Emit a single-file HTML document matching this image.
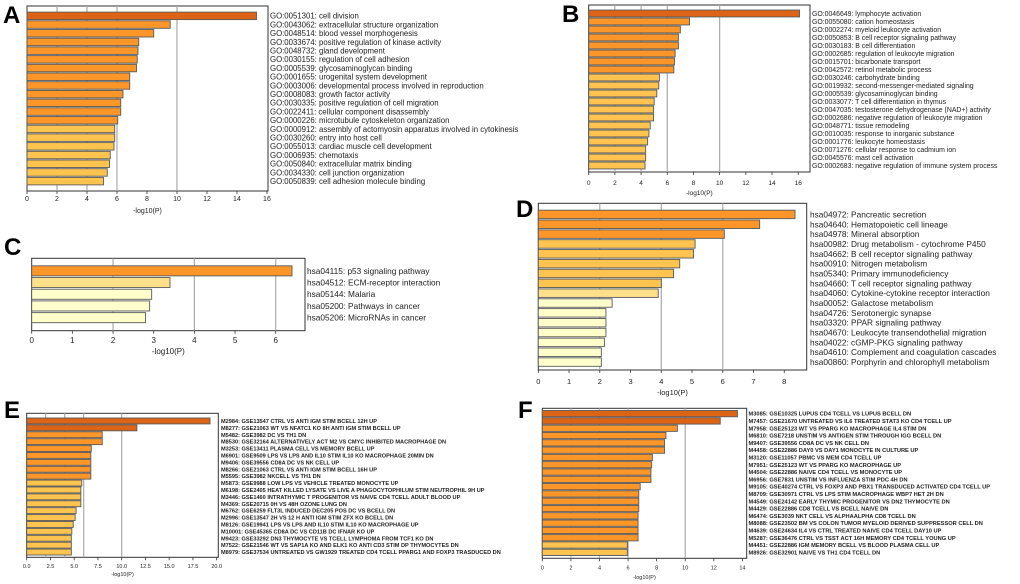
<!DOCTYPE html>
<html><head><meta charset="utf-8"><style>
html,body{margin:0;padding:0;background:#fff;}
svg{display:block;font-family:"Liberation Sans",sans-serif;}
</style></head><body>
<svg id="fig" width="1020" height="584" viewBox="0 0 1020 584" xmlns="http://www.w3.org/2000/svg"></svg>
<script>
// ---------- data ----------
const aLabels=["GO:0051301: cell division","GO:0043062: extracellular structure organization","GO:0048514: blood vessel morphogenesis","GO:0033674: positive regulation of kinase activity","GO:0048732: gland development","GO:0030155: regulation of cell adhesion","GO:0005539: glycosaminoglycan binding","GO:0001655: urogenital system development","GO:0003006: developmental process involved in reproduction","GO:0008083: growth factor activity","GO:0030335: positive regulation of cell migration","GO:0022411: cellular component disassembly","GO:0000226: microtubule cytoskeleton organization","GO:0000912: assembly of actomyosin apparatus involved in cytokinesis","GO:0030260: entry into host cell","GO:0055013: cardiac muscle cell development","GO:0006935: chemotaxis","GO:0050840: extracellular matrix binding","GO:0034330: cell junction organization","GO:0050839: cell adhesion molecule binding"];
const aValues=[15.3,9.55,8.45,7.45,7.4,7.35,7.3,6.85,6.85,6.4,6.25,6.25,6.05,5.85,5.85,5.8,5.55,5.5,5.35,5.1];
const aLevels=[0,1,1,1,1,1,1,1,1,1,1,1,1,2,2,2,2,2,2,2];
const aTicks=[0,2,4,6,8,10,12,14,16];

const bLabels=["GO:0046649: lymphocyte activation","GO:0055080: cation homeostasis","GO:0002274: myeloid leukocyte activation","GO:0050853: B cell receptor signaling pathway","GO:0030183: B cell differentiation","GO:0002685: regulation of leukocyte migration","GO:0015701: bicarbonate transport","GO:0042572: retinol metabolic process","GO:0030246: carbohydrate binding","GO:0019932: second-messenger-mediated signaling","GO:0005539: glycosaminoglycan binding","GO:0033077: T cell differentiation in thymus","GO:0047035: testosterone dehydrogenase (NAD+) activity","GO:0002686: negative regulation of leukocyte migration","GO:0048771: tissue remodeling","GO:0010035: response to inorganic substance","GO:0001776: leukocyte homeostasis","GO:0071276: cellular response to cadmium ion","GO:0045576: mast cell activation","GO:0002683: negative regulation of immune system process"];
const bValues=[16.1,7.7,7.0,6.85,6.85,6.6,6.55,6.5,5.4,5.35,5.2,5.0,4.95,4.95,4.7,4.6,4.5,4.35,4.35,4.3];
const bLevels=[0,1,1,1,1,1,1,1,2,2,2,2,2,2,2,2,2,2,2,2];
const bTicks=[0,2,4,6,8,10,12,14,16];

const cLabels=["hsa04115: p53 signaling pathway","hsa04512: ECM-receptor interaction","hsa05144: Malaria","hsa05200: Pathways in cancer","hsa05206: MicroRNAs in cancer"];
const cValues=[6.4,3.4,2.95,2.9,2.8];
const cLevels=[1,3,4,4,4];
const cTicks=[0,1,2,3,4,5,6];

const dLabels=["hsa04972: Pancreatic secretion","hsa04640: Hematopoietic cell lineage","hsa04978: Mineral absorption","hsa00982: Drug metabolism - cytochrome P450","hsa04662: B cell receptor signaling pathway","hsa00910: Nitrogen metabolism","hsa05340: Primary immunodeficiency","hsa04660: T cell receptor signaling pathway","hsa04060: Cytokine-cytokine receptor interaction","hsa00052: Galactose metabolism","hsa04726: Serotonergic synapse","hsa03320: PPAR signaling pathway","hsa04670: Leukocyte transendothelial migration","hsa04022: cGMP-PKG signaling pathway","hsa04610: Complement and coagulation cascades","hsa00860: Porphyrin and chlorophyll metabolism"];
const dValues=[8.35,7.2,6.05,5.1,5.05,4.6,4.4,4.0,3.9,2.4,2.2,2.2,2.2,2.15,2.05,2.05];
const dLevels=[1,1,1,2,2,2,2,2,3,4,4,4,4,4,4,4];
const dTicks=[0,1,2,3,4,5,6,7,8];

const eLabels=["M2984: GSE13547 CTRL VS ANTI IGM STIM BCELL 12H UP","M8277: GSE21063 WT VS NFATC1 KO 8H ANTI IGM STIM BCELL UP","M5482: GSE3982 DC VS TH1 DN","M8530: GSE32164 ALTERNATIVELY ACT M2 VS CMYC INHIBITED MACROPHAGE DN","M3253: GSE13411 PLASMA CELL VS MEMORY BCELL UP","M6901: GSE9509 LPS VS LPS AND IL10 STIM IL10 KO MACROPHAGE 20MIN DN","M9406: GSE39556 CD8A DC VS NK CELL UP","M8266: GSE21063 CTRL VS ANTI IGM STIM BCELL 16H UP","M5595: GSE3982 NKCELL VS TH1 DN","M5873: GSE9988 LOW LPS VS VEHICLE TREATED MONOCYTE UP","M6198: GSE2405 HEAT KILLED LYSATE VS LIVE A PHAGOCYTOPHILUM STIM NEUTROPHIL 9H UP","M3446: GSE1460 INTRATHYMIC T PROGENITOR VS NAIVE CD4 TCELL ADULT BLOOD UP","M4369: GSE20715 0H VS 48H OZONE LUNG DN","M6762: GSE6259 FLT3L INDUCED DEC205 POS DC VS BCELL DN","M2996: GSE13547 2H VS 12 H ANTI IGM STIM ZFX KO BCELL DN","M8126: GSE19941 LPS VS LPS AND IL10 STIM IL10 KO MACROPHAGE UP","M10001: GSE45365 CD8A DC VS CD11B DC IFNAR KO UP","M9423: GSE33292 DN3 THYMOCYTE VS TCELL LYMPHOMA FROM TCF1 KO DN","M7522: GSE21546 WT VS SAP1A KO AND ELK1 KO ANTI CD3 STIM DP THYMOCYTES DN","M8979: GSE37534 UNTREATED VS GW1929 TREATED CD4 TCELL PPARG1 AND FOXP3 TRASDUCED DN"];
const eValues=[19.3,11.6,7.95,7.95,6.8,6.75,6.75,6.75,6.75,5.8,5.7,5.7,5.7,5.2,5.1,4.9,4.75,4.7,4.7,4.7];
const eLevels=[0,0,1,1,1,1,1,1,1,2,2,2,2,2,2,2,2,2,2,2];
const eTicks=[0,2.5,5,7.5,10,12.5,15,17.5,20];

const fLabels=["M3085: GSE10325 LUPUS CD4 TCELL VS LUPUS BCELL DN","M7457: GSE21670 UNTREATED VS IL6 TREATED STAT3 KO CD4 TCELL UP","M7958: GSE25123 WT VS PPARG KO MACROPHAGE IL4 STIM DN","M6810: GSE7218 UNSTIM VS ANTIGEN STIM THROUGH IGG BCELL DN","M9407: GSE39556 CD8A DC VS NK CELL DN","M4458: GSE22886 DAY0 VS DAY1 MONOCYTE IN CULTURE UP","M3120: GSE11057 PBMC VS MEM CD4 TCELL UP","M7951: GSE25123 WT VS PPARG KO MACROPHAGE UP","M4504: GSE22886 NAIVE CD4 TCELL VS MONOCYTE UP","M6956: GSE7831 UNSTIM VS INFLUENZA STIM PDC 4H DN","M9105: GSE40274 CTRL VS FOXP3 AND PBX1 TRANSDUCED ACTIVATED CD4 TCELL UP","M8709: GSE30971 CTRL VS LPS STIM MACROPHAGE WBP7 HET 2H DN","M4549: GSE24142 EARLY THYMIC PROGENITOR VS DN2 THYMOCYTE DN","M4429: GSE22886 CD8 TCELL VS BCELL NAIVE DN","M6474: GSE3039 NKT CELL VS ALPHAALPHA CD8 TCELL DN","M8088: GSE23502 BM VS COLON TUMOR MYELOID DERIVED SUPPRESSOR CELL DN","M4639: GSE24634 IL4 VS CTRL TREATED NAIVE CD4 TCELL DAY10 UP","M5287: GSE36476 CTRL VS TSST ACT 16H MEMORY CD4 TCELL YOUNG UP","M4451: GSE22886 IGM MEMORY BCELL VS BLOOD PLASMA CELL UP","M8926: GSE32901 NAIVE VS TH1 CD4 TCELL DN"];
const fValues=[13.65,12.45,9.45,8.65,8.55,8.55,7.7,7.65,7.6,7.6,6.85,6.75,6.75,6.75,6.7,6.7,6.7,6.7,5.95,5.95];
const fLevels=[0,0,1,1,1,1,1,1,1,1,1,1,1,1,1,1,1,1,2,2];
const fTicks=[0,2,4,6,8,10,12,14];

const gridValues=[2,4,6,10];
// ---------- drawing ----------
const COLORS=["#dd6317","#fc9628","#fec44f","#fee08b","#ffffcc"];
const NS="http://www.w3.org/2000/svg";
const svg=document.getElementById("fig");
function mk(tag,attrs,parent){const e=document.createElementNS(NS,tag);for(const k in attrs)e.setAttribute(k,attrs[k]);(parent||svg).appendChild(e);return e;}

function panel(id,letter,labels,values,levels,ticks,g){
  const grp=mk("g",{});
  
  
  const xs=v=>g.x0+(v/g.max)*(g.x1-g.x0);
  const n=values.length, step=(g.bb-g.bt)/n, bh=step*0.86;
  const frame=mk("rect",{x:g.x0,y:g.y0,width:g.x1-g.x0,height:g.y1-g.y0,fill:"#fff",stroke:"#333","stroke-width":1},grp);
  
  
  gridValues.forEach(v=>{ if(v<g.max){
    const l=mk("line",{x1:xs(v),x2:xs(v),y1:g.y0,y2:g.y1,stroke:"#aaa","stroke-width":1.2},grp);
    
    
  }});
  values.forEach((v,i)=>{
    const y=g.bt+i*step+(step-bh)/2;
    const r=mk("rect",{x:g.x0,y:y,width:xs(v)-g.x0,height:bh,fill:COLORS[levels[i]],stroke:"#5a5a5a","stroke-width":0.9},grp);
    
    
    const t=mk("text",{x:g.lx,y:g.bt+i*step+step/2+g.fs*0.36,"font-size":g.fs,fill:"#222","font-weight":g.bold?"bold":"normal"},grp);
    t.textContent=labels[i];
    
    
  });
  ticks.forEach(v=>{
    mk("line",{x1:xs(v),x2:xs(v),y1:g.y1,y2:g.y1+3,stroke:"#333","stroke-width":0.8},grp);
    const t=mk("text",{x:xs(v),y:g.ty,"font-size":g.tfs,"text-anchor":"middle",fill:"#222"},grp);
    t.textContent=(g.dec?v.toFixed(1):String(v));
    
    
  });
  const xl=mk("text",{x:(g.x0+g.x1)/2,y:g.xly,"font-size":g.tfs,"text-anchor":"middle",fill:"#222"},grp);
  xl.textContent="-log10(P)";
  
  
  const L=mk("text",{x:g.Lx,y:g.Ly,"font-size":24,"font-weight":"bold",fill:"#000"},grp);
  L.textContent=letter;
  
  
}
panel("a","A",aLabels,aValues,aLevels,aTicks,{x0:27,x1:268,y0:6,y1:191,max:16.07,bt:11.5,bb:185.5,lx:270,fs:7.8,tfs:7,ty:201,xly:213,Lx:3,Ly:23});
panel("b","B",bLabels,bValues,bLevels,bTicks,{x0:588.7,x1:810,y0:5,y1:172,max:16.9,bt:9.5,bb:169.5,lx:812,fs:6.9,tfs:6.5,ty:185,xly:195,Lx:562,Ly:22});
panel("c","C",cLabels,cValues,cLevels,cTicks,{x0:31.7,x1:305,y0:258.3,y1:330.7,max:6.72,bt:265,bb:323.5,lx:307,fs:8.3,tfs:8,ty:343,xly:354,Lx:4,Ly:255});
panel("d","D",dLabels,dValues,dLevels,dTicks,{x0:538.3,x1:806.7,y0:203.3,y1:370,max:8.73,bt:209.5,bb:367,lx:810,fs:8.3,tfs:7.5,ty:384,xly:395,Lx:516,Ly:217});
panel("e","E",eLabels,eValues,eLevels,eTicks,{x0:26.7,x1:218.3,y0:413.3,y1:557.3,max:20.17,bt:417.5,bb:555.5,lx:221,fs:5.6,tfs:5.5,ty:568,xly:576,Lx:4,Ly:418,bold:true,dec:true});
panel("f","F",fLabels,fValues,fLevels,fTicks,{x0:542.3,x1:746.7,y0:408.3,y1:558.3,max:14.3,bt:410,bb:556,lx:748.5,fs:5.7,tfs:5.5,ty:569.5,xly:579,Lx:518,Ly:418,bold:true});
</script>
</body></html>
